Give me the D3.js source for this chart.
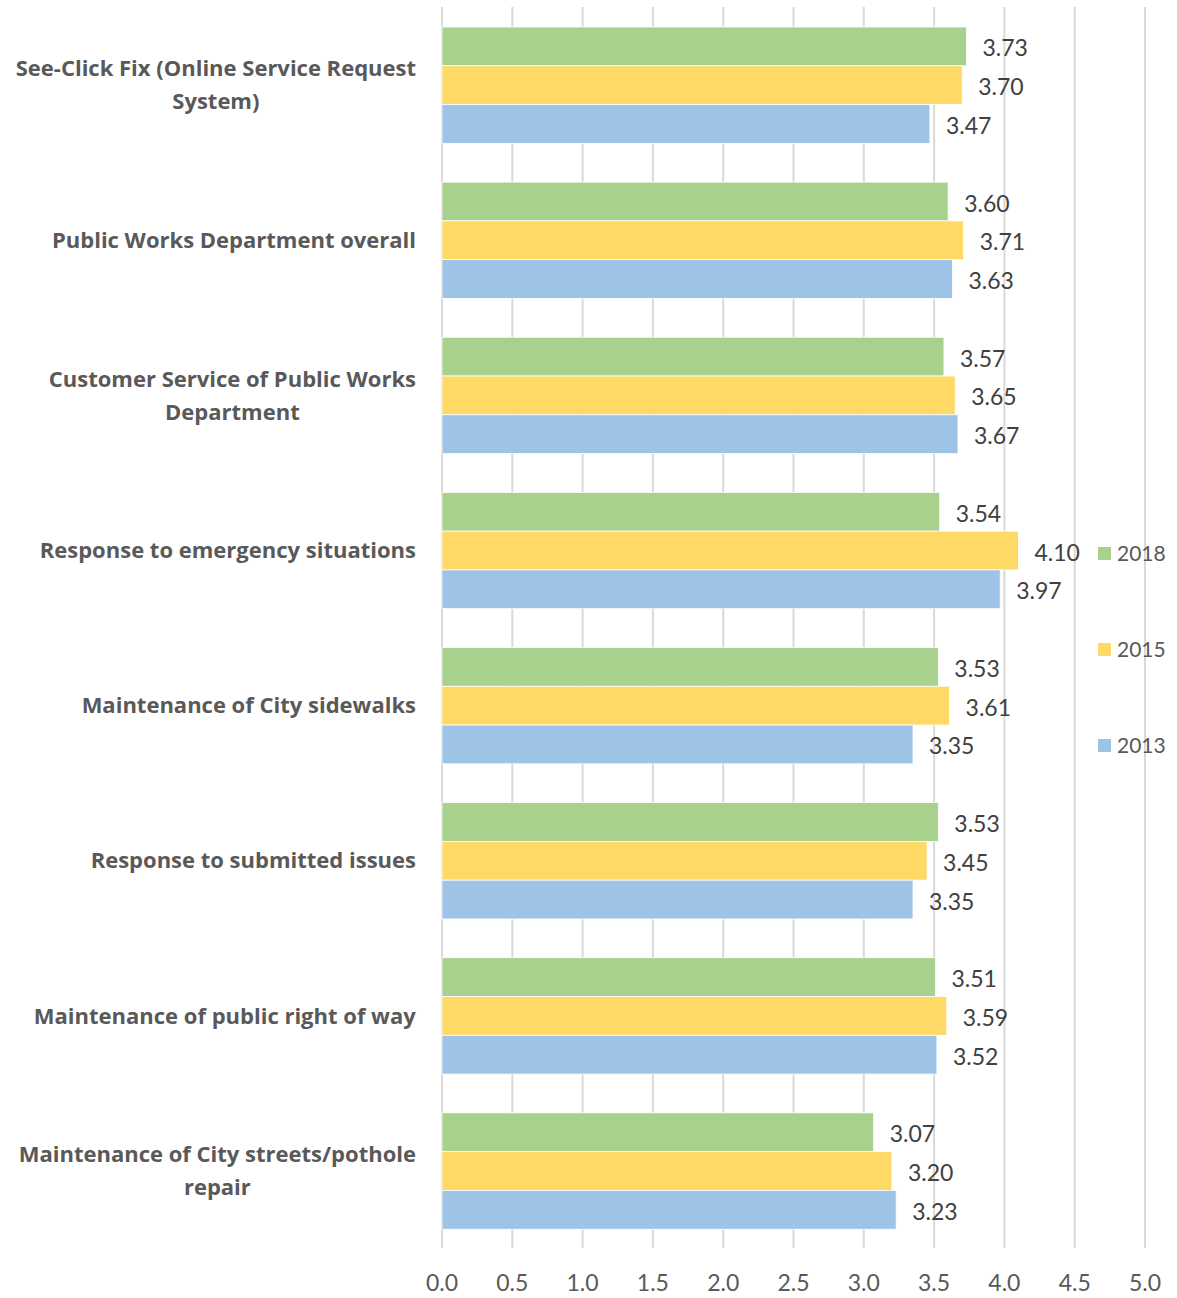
<!DOCTYPE html>
<html><head><meta charset="utf-8">
<script src="https://cdn.jsdelivr.net/npm/d3@7"></script>
<style>body{margin:0;background:#fff}svg{display:block}</style>
</head><body>
<svg id="c" width="1177" height="1298"></svg>
<script>
const categories = [
  ["See-Click Fix (Online Service Request", "System)"],
  ["Public Works Department overall"],
  ["Customer Service of Public Works", "Department"],
  ["Response to emergency situations"],
  ["Maintenance of City sidewalks"],
  ["Response to submitted issues"],
  ["Maintenance of public right of way"],
  ["Maintenance of City streets/pothole", "repair"]
];
const seriesNames = ["2018", "2015", "2013"];
const values2018 = [3.73, 3.60, 3.57, 3.54, 3.53, 3.53, 3.51, 3.07];
const values2015 = [3.70, 3.71, 3.65, 4.10, 3.61, 3.45, 3.59, 3.20];
const values2013 = [3.47, 3.63, 3.67, 3.97, 3.35, 3.35, 3.52, 3.23];
const tickValues = [0, 0.5, 1, 1.5, 2, 2.5, 3, 3.5, 4, 4.5, 5];
const colors = ["#a9d18e", "#ffd966", "#9dc3e6"];

const series = [values2018, values2015, values2013];
const svg = d3.select("#c");
const font = "Lato, 'Open Sans', sans-serif";
const boldFont = "'Open Sans', Lato, sans-serif";
const x = d3.scaleLinear().domain([0, 5]).range([442, 1145]);
const y = d3.scaleBand().domain(d3.range(categories.length)).range([7.6, 1248.6]).paddingInner(0.25).paddingOuter(0.125);
const ys = d3.scaleBand().domain(d3.range(3)).range([0, y.bandwidth()]);

// gridlines
svg.append("g").selectAll("line").data(tickValues).join("line")
  .attr("x1", d => x(d)).attr("x2", d => x(d))
  .attr("y1", 7).attr("y2", 1248)
  .attr("stroke", "#d9d9d9").attr("stroke-width", 2);

// tick labels
svg.append("g").selectAll("text").data(tickValues).join("text")
  .attr("x", d => x(d)).attr("y", 1291)
  .attr("text-anchor", "middle")
  .attr("font-family", font).attr("font-size", 23).attr("fill", "#595959")
  .text(d => d.toFixed(1));

// bars
const g = svg.append("g");
categories.forEach((c, i) => {
  series.forEach((s, j) => {
    const yy = y(i) + ys(j);
    g.append("rect")
      .attr("x", x(0)).attr("y", yy)
      .attr("width", x(s[i]) - x(0)).attr("height", ys.bandwidth())
      .attr("fill", colors[j]).attr("stroke", "#fff").attr("stroke-width", 0.8);
    g.append("text")
      .attr("x", x(s[i]) + 16).attr("y", yy + ys.bandwidth() / 2 + 2)
      .attr("dy", "0.35em")
      .attr("font-family", font).attr("font-size", 23).attr("fill", "#404040")
      .text(s[i].toFixed(2));
  });
});

// category labels
categories.forEach((lines, i) => {
  const cy = y(i) + y.bandwidth() / 2;
  const t = svg.append("text")
    .attr("font-family", boldFont).attr("font-size", 22).attr("font-weight", "bold")
    .attr("fill", "#595959").attr("text-anchor", "middle");
  const lh = 33;
  lines.forEach((l, k) => {
    t.append("tspan").attr("x", 0).attr("y", cy + (k - (lines.length - 1) / 2) * lh).attr("dy", "0.35em").text(l);
  });
  const w = t.node().getBBox().width;
  t.attr("transform", `translate(${416 - w / 2},0)`);
});

// legend
const legY = [554, 650, 746];
seriesNames.forEach((n, j) => {
  svg.append("rect").attr("x", 1098).attr("y", legY[j] - 7).attr("width", 13).attr("height", 13).attr("fill", colors[j]);
  svg.append("text").attr("x", 1117).attr("y", legY[j]).attr("dy", "0.35em")
    .attr("font-family", font).attr("font-size", 21).attr("fill", "#595959").text(n);
});
</script>
</body></html>
